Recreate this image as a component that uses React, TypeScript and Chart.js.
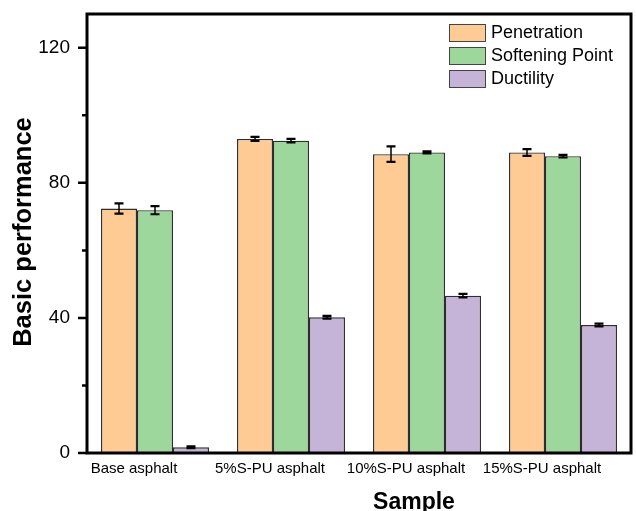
import React, { useEffect, useRef } from "react";
import { Chart, registerables } from "chart.js";

Chart.register(...registerables);

const categories = ["Base asphalt", "5%S-PU asphalt", "10%S-PU asphalt", "15%S-PU asphalt"];
const seriesNames = ["Penetration", "Softening Point", "Ductility"];
const penetration = [72.4, 93.0, 88.5, 89.0];
const penetrationErr = [1.5, 0.6, 2.3, 1.0];
const softening = [71.9, 92.5, 89.0, 87.9];
const softeningErr = [1.2, 0.5, 0.3, 0.4];
const ductility = [1.7, 40.2, 46.6, 37.9];
const ductilityErr = [0.3, 0.4, 0.5, 0.4];
const yTicks = [0, 40, 80, 120];
const yMinorTicks = [20, 60, 100];
const yMax = 130;
const xTitle = "Sample";
const yTitle = "Basic performance";

const seriesValues = [penetration, softening, ductility];
const seriesErrors = [penetrationErr, softeningErr, ductilityErr];
const seriesColors = ["#FDCB93", "#9ED79B", "#C6B4D8"];
const FONT = "'Liberation Sans', Arial, sans-serif";

const errorBarPlugin = {
  id: "errorBars",
  afterDatasetsDraw(chart: any) {
    const ctx = chart.ctx;
    const yScale = chart.scales.y;
    ctx.save();
    ctx.strokeStyle = "#000";
    chart.data.datasets.forEach((ds: any, i: number) => {
      const meta = chart.getDatasetMeta(i);
      const errs = seriesErrors[i];
      meta.data.forEach((el: any, j: number) => {
        const v = ds.data[j];
        const e = errs[j];
        const yTop = yScale.getPixelForValue(v + e);
        const yBot = yScale.getPixelForValue(v - e);
        const x = el.x;
        const half = 4.5;
        ctx.lineWidth = 1.5;
        ctx.beginPath();
        ctx.moveTo(x, yTop);
        ctx.lineTo(x, yBot);
        ctx.stroke();
        ctx.lineWidth = 2.2;
        ctx.beginPath();
        ctx.moveTo(x - half, yTop);
        ctx.lineTo(x + half, yTop);
        ctx.moveTo(x - half, yBot);
        ctx.lineTo(x + half, yBot);
        ctx.stroke();
      });
    });
    ctx.restore();
  },
};

const decorPlugin = {
  id: "decor",
  afterDraw(chart: any) {
    const ctx = chart.ctx;
    const { left, right, top, bottom } = chart.chartArea;
    const yScale = chart.scales.y;
    const xScale = chart.scales.x;
    ctx.save();
    // frame
    ctx.strokeStyle = "#000";
    ctx.lineWidth = 3;
    ctx.strokeRect(left, top, right - left, bottom - top);
    // y ticks
    ctx.lineWidth = 2.5;
    ctx.beginPath();
    yTicks.forEach((v) => {
      const y = yScale.getPixelForValue(v);
      ctx.moveTo(left - 9, y);
      ctx.lineTo(left, y);
    });
    yMinorTicks.forEach((v) => {
      const y = yScale.getPixelForValue(v);
      ctx.moveTo(left - 5, y);
      ctx.lineTo(left, y);
    });
    ctx.stroke();
    // x category labels
    ctx.fillStyle = "#000";
    ctx.font = `15px ${FONT}`;
    ctx.textAlign = "center";
    ctx.textBaseline = "alphabetic";
    categories.forEach((c, i) => {
      const x = xScale.getPixelForValue(i) - 21;
      ctx.fillText(c, x, 473);
    });
    // x title
    ctx.font = `bold 23px ${FONT}`;
    ctx.fillText(xTitle, 414, 509);
    // y title
    ctx.save();
    ctx.translate(31, 232);
    ctx.rotate(-Math.PI / 2);
    ctx.font = `bold 25.5px ${FONT}`;
    ctx.textAlign = "center";
    ctx.fillText(yTitle, 0, 0);
    ctx.restore();
    // legend
    ctx.font = `18px ${FONT}`;
    ctx.textAlign = "left";
    seriesNames.forEach((name, k) => {
      const sy = 24 + 23 * k;
      ctx.fillStyle = seriesColors[k];
      ctx.fillRect(449, sy, 37, 18);
      ctx.strokeStyle = "#444";
      ctx.lineWidth = 1;
      ctx.strokeRect(449.5, sy + 0.5, 36, 17);
      ctx.fillStyle = "#000";
      ctx.fillText(name, 491, 38 + 23 * k);
    });
    ctx.restore();
  },
};

export default function App() {
  const canvasRef = useRef<HTMLCanvasElement | null>(null);

  useEffect(() => {
    if (!canvasRef.current) return;
    const chart = new Chart(canvasRef.current, {
      type: "bar",
      data: {
        labels: categories,
        datasets: seriesNames.map((name, i) => ({
          label: name,
          data: seriesValues[i],
          backgroundColor: seriesColors[i],
          borderColor: "#2e2e2e",
          borderWidth: 1.4,
          categoryPercentage: 0.794,
          barPercentage: 1,
        })),
      },
      options: {
        animation: false,
        responsive: false,
        maintainAspectRatio: false,
        layout: { padding: { left: 0, right: 5, top: 14, bottom: 0 } },
        plugins: {
          legend: { display: false },
          tooltip: { enabled: false },
          title: { display: false },
        },
        scales: {
          x: {
            type: "category",
            grid: { display: false },
            border: { display: false },
            ticks: { display: false },
            afterFit: (scale: any) => {
              scale.height = 58;
              scale.paddingLeft = 0;
              scale.paddingRight = 0;
            },
          },
          y: {
            type: "linear",
            min: 0,
            max: yMax,
            grid: { display: true, drawOnChartArea: false, drawTicks: false, color: "rgba(0,0,0,0)" },
            border: { display: false },
            afterBuildTicks: (scale: any) => {
              scale.ticks = yTicks.map((v) => ({ value: v }));
            },
            ticks: {
              padding: 17,
              color: "#000",
              font: { family: FONT, size: 19 },
              callback: (v: any) => String(v),
            },
            afterFit: (scale: any) => {
              scale.width = 87;
              scale.paddingTop = 0;
              scale.paddingBottom = 0;
            },
          },
        },
      },
      plugins: [errorBarPlugin, decorPlugin],
    });
    return () => chart.destroy();
  }, []);

  return (
    <div style={{ position: "fixed", left: 0, top: 0, width: 636, height: 511, background: "#fff" }}>
      <canvas ref={canvasRef} width={636} height={511} style={{ width: 636, height: 511, display: "block" }} />
    </div>
  );
}
